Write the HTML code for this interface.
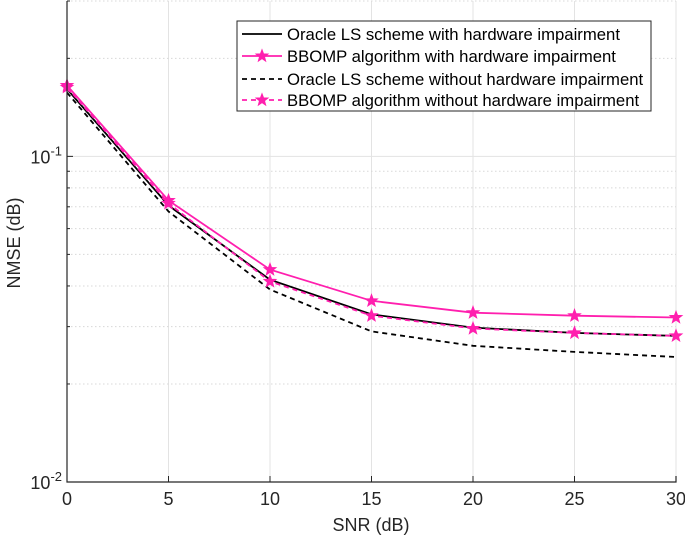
<!DOCTYPE html>
<html><head><meta charset="utf-8"><style>
html,body{margin:0;padding:0;background:#fff;}
svg{display:block;font-family:"Liberation Sans",Arial,sans-serif;}
</style></head><body>
<svg id="chart" width="685" height="539" viewBox="0 0 685 539" xmlns="http://www.w3.org/2000/svg">
<g id="grid"></g>
<g id="series"></g>
<g id="axes"></g>
<text x="371" y="531" font-size="18" text-anchor="middle" fill="#262626">SNR (dB)</text>
<text transform="translate(20,243) rotate(-90)" font-size="18" text-anchor="middle" fill="#262626">NMSE (dB)</text>
<g id="legend"></g>
</svg>
<script>
const snr = [0,5,10,15,20,25,30];
const oracleWith = [0.161,0.0707,0.0418,0.0327,0.0298,0.0287,0.0281];
const bbompWith = [0.165,0.0732,0.0449,0.036,0.0331,0.0324,0.0320];
const oracleWithout = [0.157,0.0677,0.039,0.029,0.0262,0.0251,0.0242];
const bbompWithout = [0.163,0.0717,0.0413,0.0324,0.0296,0.0287,0.0281];
const xTicks = [0,5,10,15,20,25,30];
const legendLabels = ["Oracle LS scheme with hardware impairment","BBOMP algorithm with hardware impairment","Oracle LS scheme without hardware impairment","BBOMP algorithm without hardware impairment"];

const NS="http://www.w3.org/2000/svg";
const L=67,R=676,T=1,B=482;
const PINK="#ff1fae";
const xs=v=>L+(v-0)/(30-0)*(R-L);
const ys=v=>B-(Math.log10(v)-(-2))/(Math.log10(0.3)+2)*(B-T);
function mk(tag,attrs,parent){const e=document.createElementNS(NS,tag);for(const k in attrs)e.setAttribute(k,attrs[k]);parent.appendChild(e);return e;}
const grid=document.getElementById('grid'),axes=document.getElementById('axes'),ser=document.getElementById('series'),leg=document.getElementById('legend');

xTicks.forEach(t=>{
  const x=xs(t);
  const g=mk('line',{x1:x,x2:x,y1:T,y2:B,stroke:'#e3e3e3','stroke-width':1},grid);
  
  
  const tk=mk('line',{x1:x,x2:x,y1:B,y2:B-6,stroke:'#262626'},axes);
  
  
  const tx=mk('text',{x:x,y:B+23,'font-size':18,'text-anchor':'middle',fill:'#262626'},axes);
  tx.textContent=t;
  
  
});
[0.02,0.03,0.04,0.05,0.06,0.07,0.08,0.09,0.2,0.3].forEach(v=>{
  const y=ys(v);
  const g=mk('line',{x1:L,x2:R,y1:y,y2:y,stroke:'#d8d8d8','stroke-dasharray':'1.5 2.5'},grid);
  
  
  const tk=mk('line',{x1:L,x2:L+3,y1:y,y2:y,stroke:'#262626'},axes);
  
  
});
const gm=mk('line',{x1:L,x2:R,y1:ys(0.1),y2:ys(0.1),stroke:'#e3e3e3'},grid);


[[0.1,'-1'],[0.01,'-2']].forEach(([v,e])=>{
  const y=ys(v);
  const tk=mk('line',{x1:L,x2:L+6,y1:y,y2:y,stroke:'#262626'},axes);
  
  
  const tx=mk('text',{x:L-5,y:y+7,'font-size':18,'text-anchor':'end',fill:'#262626'},axes);
  tx.innerHTML='10<tspan dy="-8" font-size="13">'+e+'</tspan>';
  
  
});
const ax=mk('path',{d:`M${L},${T} V${B} H${R} V${B-6}`,fill:'none',stroke:'#262626','stroke-width':1.2},axes);



function star(cx,cy,r,parent){
  let p='';for(let i=0;i<10;i++){const a=-Math.PI/2+i*Math.PI/5;const rr=i%2?r*0.42:r;p+=(i?'L':'M')+(cx+rr*Math.cos(a)).toFixed(1)+','+(cy+rr*Math.sin(a)).toFixed(1);}
  return mk('path',{d:p+'Z',fill:PINK,stroke:PINK,'stroke-width':0.8},parent);
}
function series(vals,color,dash,markers,name){
  const d=vals.map((v,i)=>(i?'L':'M')+xs(snr[i]).toFixed(1)+','+ys(v).toFixed(1)).join(' ');
  const p=mk('path',{d:d,fill:'none',stroke:color,'stroke-width':1.8,'stroke-dasharray':dash||'none'},ser);
  
  
  if(markers) vals.forEach((v,i)=>{
    const s=star(xs(snr[i]),ys(v),6.5,ser);
    
    
  });
}
series(oracleWithout,'#000','5 4',false,'oracle-without-line');
series(oracleWith,'#000',null,false,'oracle-with-line');
series(bbompWithout,PINK,'5 4',true,'bbomp-without-line');
series(bbompWith,PINK,null,true,'bbomp-with-line');

const box=mk('rect',{x:237,y:21,width:414,height:90,fill:'#fff',stroke:'#262626','stroke-width':1},leg);


const rowsY=[34,56,79,100];
const styles=[['#000',null,false],[PINK,null,true],['#000','5 4',false],[PINK,'5 4',true]];
legendLabels.forEach((lab,i)=>{
  const y=rowsY[i];
  const [c,da,m]=styles[i];
  const ln=mk('line',{x1:242,x2:282,y1:y,y2:y,stroke:c,'stroke-width':1.8,'stroke-dasharray':da||'none'},leg);
  
  
  if(m){const s=star(262,y,6.5,leg);}
  const t=mk('text',{x:287,y:y+6,'font-size':16.7,fill:'#000'},leg);
  t.textContent=lab;
  
  
});
</script>
</body></html>
